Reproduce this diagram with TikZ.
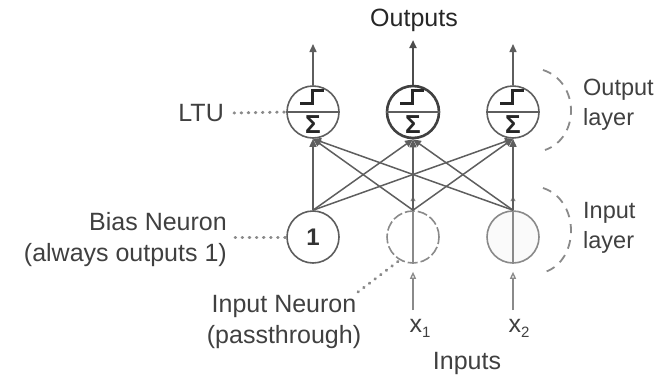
\documentclass[tikz,border=0pt]{standalone}
\usepackage{fontspec}
\setmainfont{Liberation Sans}
\usetikzlibrary{arrows.meta}
\definecolor{txt}{HTML}{404040}
\definecolor{ln}{HTML}{5E5E5E}
\definecolor{lite}{HTML}{8A8A8A}
\begin{document}
\begin{tikzpicture}[x=1pt,y=-1pt,
  lbl/.style={text=txt,font=\fontsize{25}{31}\selectfont,inner sep=2pt},
  neuron/.style={circle,draw=ln,line width=1.6pt,minimum size=52pt,inner sep=0pt},
  ltu/.style={neuron},
  ltumain/.style={neuron,draw=black!75,line width=2.6pt},
  conn/.style={draw=ln,line width=1.5pt,-{Triangle[length=8pt,width=7pt]}},
  dotline/.style={draw=lite,line width=3pt,line cap=round,dash pattern=on 0.6pt off 6.5pt},
  bracket/.style={draw=lite,line width=1.8pt,dash pattern=on 9pt off 7pt}
]
\useasboundingbox (0,0) rectangle (660,391);

% output neurons (LTU)
\foreach \n/\x/\s in {o1/313/ltu,o2/413/ltumain,o3/513/ltu}{
  \node[\s] (\n) at (\x,112) {};
  \draw[ln,line width=1.6pt] (\n.west) -- (\n.east);
  \draw[black!85,line width=3pt] (\x-13,103) -- (\x-1,103) -- (\x-1,90) -- (\x+11,90);
  \node[text=black!85,font=\fontsize{26}{26}\selectfont\bfseries,inner sep=0pt] (\n s) at (\x,125) {Σ};
}

% input neurons
\node[neuron] (i0) at (313,237) {\fontsize{24}{24}\selectfont\bfseries\color{black!80}1};
\node[neuron,draw=lite,dashed,dash pattern=on 10pt off 3pt] (i1) at (413,237) {};
\node[neuron,draw=lite,fill=black!2] (i2) at (513,237) {};

% passthrough lines inside input neurons
\draw[lite,line width=1.2pt,-{Triangle[length=5pt,width=5pt,open]}] (i1.south) -- ([yshift=14pt]i1.north);
\draw[lite,line width=1.2pt,-{Triangle[length=5pt,width=5pt,open]}] (i2.south) -- ([yshift=14pt]i2.north);

% connections
\foreach \i in {i0,i1,i2}{
  \foreach \o in {o1,o2,o3}{
    \draw[conn] (\i.north) -- (\o.south);
  }
}

% output arrows
\coordinate (y1) at (313,44);
\coordinate (y2) at (413,40);
\coordinate (y3) at (513,44);
\draw[conn] (o1.north) -- (y1);
\draw[conn,line width=2pt,draw=black!70] (o2.north) -- (y2);
\draw[conn] (o3.north) -- (y3);

% input arrows
\coordinate (x1in) at (413,310);
\coordinate (x2in) at (513,310);
\draw[conn,draw=lite,line width=1.3pt,-{Triangle[length=7pt,width=6pt,open]}] (x1in) -- ([yshift=-8pt]i1.south);
\draw[conn,draw=lite,line width=1.3pt,-{Triangle[length=7pt,width=6pt,open]}] (x2in) -- ([yshift=-8pt]i2.south);

% labels
\node[lbl,text=black!85] (outs) at (414,20) {Outputs};
\node[lbl] (inps) at (467,363) {Inputs};
\node[lbl] (x1) at (420,328) {x\raisebox{-5pt}{\fontsize{15}{15}\selectfont 1}};
\node[lbl] (x2) at (519,328) {x\raisebox{-5pt}{\fontsize{15}{15}\selectfont 2}};
\node[lbl,anchor=east] (ltul) at (226,113) {LTU};
\node[lbl,anchor=east,align=right] (bias) at (229,240) {Bias Neuron\\(always outputs 1)};
\node[lbl,align=center] (inn) at (284,322) {Input Neuron\\(passthrough)};
\node[lbl,anchor=west,align=left,font=\fontsize{23.5}{30}\selectfont,inner sep=0pt] (outl) at (583,105) {Output\\layer};
\node[lbl,anchor=west,align=left,font=\fontsize{23.5}{30}\selectfont,inner sep=0pt] (inl) at (583,228) {Input\\layer};

% dotted pointers
\draw[dotline] ([xshift=8pt]ltul.east) -- (o1.west);
\draw[dotline] ([xshift=6pt]bias.east |- i0.west) -- (i0.west);
\coordinate (inp) at (358,292);
\draw[dotline] (inp) -- (i1.240);

% layer brackets
\coordinate (ob1) at (543,70);
\coordinate (ob2) at (545,150);
\coordinate (ib1) at (543,188);
\coordinate (ib2) at (545,272);
\draw[bracket] (ob1) .. controls (580,82) and (580,138) .. (ob2);
\draw[bracket] (ib1) .. controls (580,200) and (580,260) .. (ib2);
\end{tikzpicture}
\end{document}
